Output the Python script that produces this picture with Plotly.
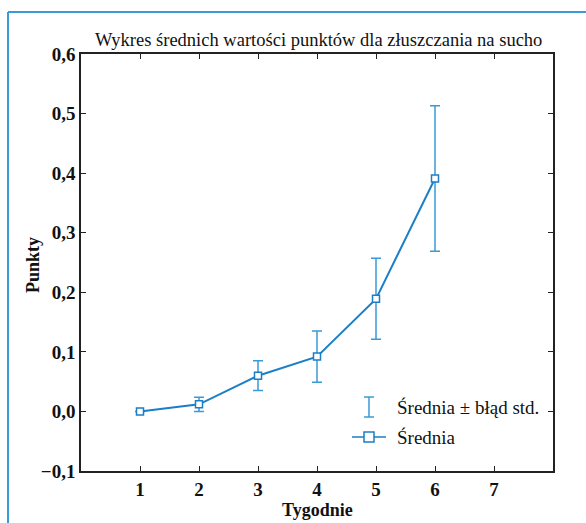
import plotly.graph_objects as go

weeks = [1, 2, 3, 4, 5, 6]
means = [0.0, 0.012, 0.060, 0.092, 0.189, 0.391]
errors = [0.0, 0.012, 0.025, 0.043, 0.068, 0.122]
x_ticks = [1, 2, 3, 4, 5, 6, 7]
y_ticks = [-0.1, 0.0, 0.1, 0.2, 0.3, 0.4, 0.5, 0.6]
y_tick_labels = ["\u22120,1", "0,0", "0,1", "0,2", "0,3", "0,4", "0,5", "0,6"]

title = "Wykres średnich wartości punktów dla złuszczania na sucho"
x_title = "Tygodnie"
y_title = "Punkty"
legend_err = "Średnia ± błąd std."
legend_mean = "Średnia"

LINE = "#1a7fc6"
ERR = "#3a9ad6"
FRAME = "#3a9ad6"
FONT = "Liberation Serif"
TXT = "#111"

W, H = 586, 523
L, R, T, B = 81, 553, 54, 471


def px(x):
    return (x - L) / (R - L)


def py(y):
    return (B - y) / (B - T)


fig = go.Figure()
fig.add_trace(go.Scatter(
    x=weeks, y=means, mode="lines+markers",
    line=dict(color=LINE, width=2),
    marker=dict(symbol="square", size=7, color="white", line=dict(color=LINE, width=1.5)),
    error_y=dict(type="data", array=errors, visible=True, color=ERR, thickness=1.5, width=5),
    showlegend=False,
))

shapes = [
    dict(type="line", xref="paper", yref="paper", x0=px(8), x1=px(600), y0=py(12), y1=py(12),
         line=dict(color=FRAME, width=2)),
    dict(type="line", xref="paper", yref="paper", x0=px(8), x1=px(8), y0=py(12), y1=py(540),
         line=dict(color=FRAME, width=2)),
    dict(type="line", xref="paper", yref="paper", x0=px(369), x1=px(369), y0=py(397), y1=py(417),
         line=dict(color=ERR, width=1.5)),
    dict(type="line", xref="paper", yref="paper", x0=px(364), x1=px(374), y0=py(397), y1=py(397),
         line=dict(color=ERR, width=1.5)),
    dict(type="line", xref="paper", yref="paper", x0=px(364), x1=px(374), y0=py(417), y1=py(417),
         line=dict(color=ERR, width=1.5)),
    dict(type="line", xref="paper", yref="paper", x0=px(352), x1=px(386), y0=py(437), y1=py(437),
         line=dict(color=LINE, width=1.5)),
    dict(type="rect", xref="paper", yref="paper", x0=px(364), x1=px(374), y0=py(432), y1=py(442),
         line=dict(color=LINE, width=1.5), fillcolor="white"),
]

reg = dict(family=FONT, size=19, color=TXT, weight="normal")
bold = dict(family=FONT, size=18, color=TXT, weight="bold")
annotations = [
    dict(text=legend_err, xref="paper", yref="paper", x=px(395), y=py(407), xanchor="left",
         yanchor="middle", showarrow=False, font=reg),
    dict(text=legend_mean, xref="paper", yref="paper", x=px(395), y=py(437), xanchor="left",
         yanchor="middle", showarrow=False, font=reg),
    dict(text=title, xref="paper", yref="paper", x=px(318), y=py(40), xanchor="center",
         yanchor="middle", showarrow=False, font=dict(family=FONT, size=18.5, color=TXT)),
    dict(text=x_title, xref="paper", yref="paper", x=px(317), y=py(510), xanchor="center",
         yanchor="middle", showarrow=False, font=bold),
    dict(text=y_title, xref="paper", yref="paper", x=px(33), y=py(265), xanchor="center",
         yanchor="middle", showarrow=False, textangle=-90, font=bold),
]

fig.update_layout(
    width=W, height=H,
    margin=dict(l=L, r=W - R, t=T, b=H - B, autoexpand=False),
    paper_bgcolor="white", plot_bgcolor="white",
    font=dict(family=FONT, color=TXT),
    shapes=shapes, annotations=annotations,
    xaxis=dict(range=[0, 8], tickvals=x_ticks, ticktext=[str(v) for v in x_ticks],
               ticks="inside", ticklen=5, tickcolor="#222", showline=True, linecolor="#222",
               linewidth=1.5, mirror="ticks", showgrid=False, zeroline=False, automargin=False,
               tickfont=dict(family=FONT, size=19, color=TXT, weight="bold")),
    yaxis=dict(range=[-0.1, 0.6], tickvals=y_ticks, ticktext=y_tick_labels,
               ticks="inside", ticklen=5, tickcolor="#222", showline=True, linecolor="#222",
               linewidth=1.5, mirror="ticks", showgrid=False, zeroline=False, automargin=False,
               tickfont=dict(family=FONT, size=19, color=TXT, weight="bold")),
)

fig.write_html("out.html")
